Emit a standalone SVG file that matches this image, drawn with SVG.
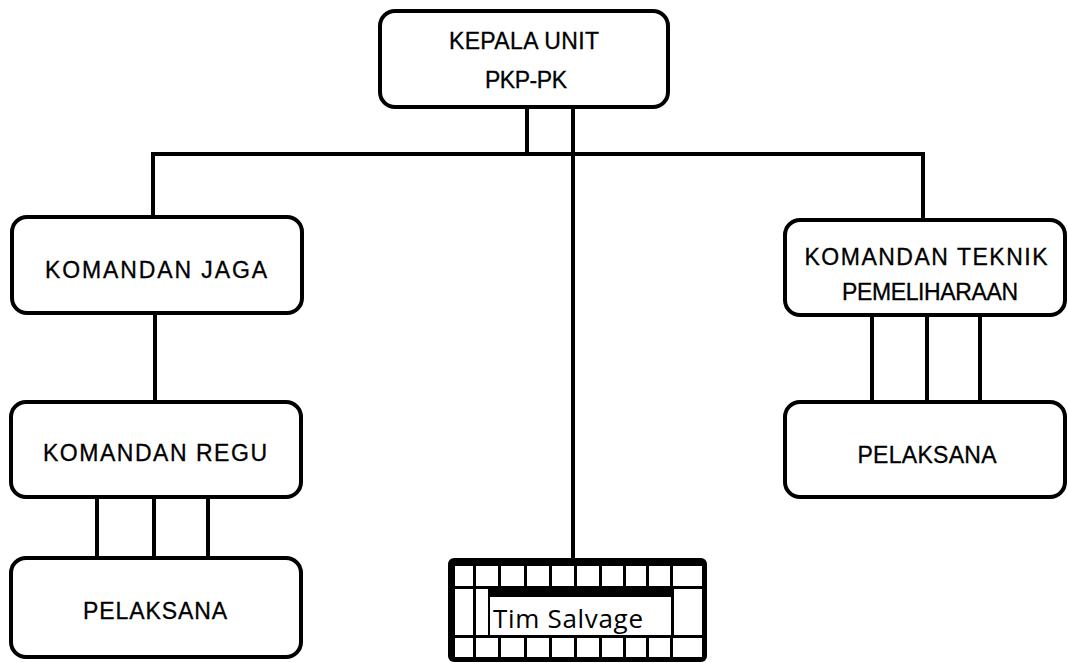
<svg xmlns="http://www.w3.org/2000/svg" width="1068" height="663" viewBox="0 0 1068 663">
<style>
.box{fill:#fff;stroke:#000;stroke-width:4}
.lbl{font-family:"Liberation Sans","DejaVu Sans",sans-serif;font-size:23px;fill:#000;stroke:#000;stroke-width:0.3;text-anchor:middle}
.con{stroke:#000;stroke-width:4;fill:none}
.cell{fill:#fff}
</style>
<rect width="1068" height="663" fill="#fff"/>
<g id="connectors">
<line class="con" x1="527" y1="107" x2="527" y2="154"/>
<line class="con" x1="573" y1="107" x2="573" y2="560"/>
<line class="con" x1="151" y1="154" x2="925" y2="154"/>
<line class="con" x1="153" y1="154" x2="153" y2="218"/>
<line class="con" x1="923" y1="154" x2="923" y2="221"/>
<line class="con" x1="155" y1="313" x2="155" y2="403"/>
<line class="con" x1="97" y1="497" x2="97" y2="559"/>
<line class="con" x1="154" y1="497" x2="154" y2="559"/>
<line class="con" x1="208" y1="497" x2="208" y2="559"/>
<line class="con" x1="872" y1="315" x2="872" y2="403"/>
<line class="con" x1="927" y1="315" x2="927" y2="403"/>
<line class="con" x1="980" y1="315" x2="980" y2="403"/>
</g>
<g id="kepala">
<rect class="box" x="380" y="11" width="288" height="96" rx="15"/>
<text class="lbl" x="524" y="49" textLength="150">KEPALA UNIT</text>
<text class="lbl" x="526" y="88" textLength="82">PKP-PK</text>
</g>
<g id="komandan-jaga">
<rect class="box" x="12" y="217" width="290" height="96" rx="15"/>
<text class="lbl" x="156" y="278" textLength="222">KOMANDAN JAGA</text>
</g>
<g id="komandan-regu">
<rect class="box" x="11" y="402" width="290" height="95" rx="15"/>
<text class="lbl" x="155" y="461" textLength="224">KOMANDAN REGU</text>
</g>
<g id="pelaksana-kiri">
<rect class="box" x="11" y="558" width="290" height="99" rx="15"/>
<text class="lbl" x="155" y="619" textLength="144">PELAKSANA</text>
</g>
<g id="komandan-teknik">
<rect class="box" x="785" y="220" width="280" height="95" rx="15"/>
<text class="lbl" x="926" y="265" textLength="243">KOMANDAN TEKNIK</text>
<text class="lbl" x="930" y="300" textLength="176">PEMELIHARAAN</text>
</g>
<g id="pelaksana-kanan">
<rect class="box" x="785" y="402" width="280" height="95" rx="15"/>
<text class="lbl" x="927" y="463" textLength="139">PELAKSANA</text>
</g>
<g id="tim-salvage">
<rect x="448" y="558" width="259" height="104" rx="6" fill="#000"/>
<g class="cell">
<rect x="455" y="566" width="18" height="20"/>
<rect x="476" y="566" width="22" height="20"/>
<rect x="501" y="566" width="23" height="20"/>
<rect x="527" y="566" width="22" height="20"/>
<rect x="552" y="566" width="22" height="20"/>
<rect x="577" y="566" width="22" height="20"/>
<rect x="602" y="566" width="21" height="20"/>
<rect x="626" y="566" width="20" height="20"/>
<rect x="649" y="566" width="21" height="20"/>
<rect x="673" y="566" width="29" height="20"/>
<rect x="455" y="589" width="18" height="46"/>
<rect x="476" y="589" width="12" height="46"/>
<rect x="490" y="597" width="181" height="38"/>
<rect x="674" y="589" width="28" height="46"/>
<rect x="455" y="638" width="18" height="19"/>
<rect x="476" y="638" width="22" height="19"/>
<rect x="501" y="638" width="23" height="19"/>
<rect x="527" y="638" width="22" height="19"/>
<rect x="552" y="638" width="22" height="19"/>
<rect x="577" y="638" width="22" height="19"/>
<rect x="602" y="638" width="21" height="19"/>
<rect x="626" y="638" width="20" height="19"/>
<rect x="649" y="638" width="21" height="19"/>
<rect x="673" y="638" width="29" height="19"/>
</g>
<text x="493" y="628" font-family="'Open Sans','Liberation Sans',sans-serif" font-size="26" fill="#000" textLength="150">Tim Salvage</text>
</g>
</svg>
